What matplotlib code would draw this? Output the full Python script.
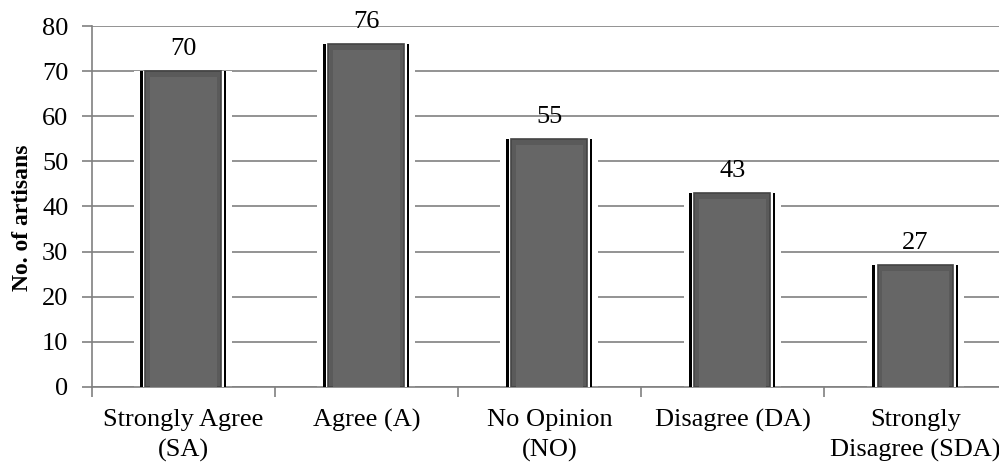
import matplotlib
matplotlib.use("Agg")
import matplotlib.pyplot as plt
import numpy as np

categories = ["Strongly Agree\n(SA)", "Agree (A)", "No Opinion\n(NO)",
              "Disagree (DA)", "Strongly\nDisagree (SDA)"]
counts = [70, 76, 55, 43, 27]

plt.rcParams['font.family'] = ['Liberation Serif', 'DejaVu Serif']

fig = plt.figure(figsize=(9.99, 4.65), dpi=100)
ax = fig.add_axes([0.092, 0.168, 0.916, 0.776])

x = np.arange(len(categories))

# grid behind, broken by a white halo around each bar
ax.set_axisbelow(True)
ax.yaxis.grid(True, color='#808080', linewidth=1.2)
ax.bar(x, counts, width=0.535, color='white', zorder=2)
# black side rails
ax.bar(x, counts, width=0.47, color='black', zorder=3)
ax.bar(x, counts, width=0.445, color='white', zorder=4)
# shaded body with a soft bevel
ax.bar(x, counts, width=0.415, color='#5a5a5a', edgecolor='#444444',
       linewidth=1.2, zorder=5)
ax.bar(x, [c - 1.4 for c in counts], width=0.37, color='#666666',
       linewidth=0, zorder=6)

for xi, v in zip(x, counts):
    ax.text(xi, v + 2.4, str(v), ha='center', va='bottom', fontsize=19)

ax.set_xlim(-0.5, len(categories) - 0.5)
ax.set_ylim(0, 80)
ax.set_yticks(range(0, 81, 10))
ax.set_xticks(x)
ax.set_xticklabels(categories, fontsize=19, linespacing=1.42)
ax.set_xticks(np.arange(-0.5, len(categories), 1.0), minor=True)
ax.tick_params(axis='x', which='major', length=0, pad=16)
ax.tick_params(axis='x', which='minor', length=7, color='#808080', width=1.2)
ax.tick_params(axis='y', labelsize=19, direction='out', length=7,
               color='#808080', width=1.2, pad=10)

for s in ['top', 'right']:
    ax.spines[s].set_visible(False)
for s in ['left', 'bottom']:
    ax.spines[s].set_color('#808080')
    ax.spines[s].set_linewidth(1.2)

ax.set_ylabel("No. of artisans", fontsize=17, fontweight='bold')
ax.yaxis.set_label_coords(-0.064, 0.468)

fig.savefig("out.png", dpi=100)
